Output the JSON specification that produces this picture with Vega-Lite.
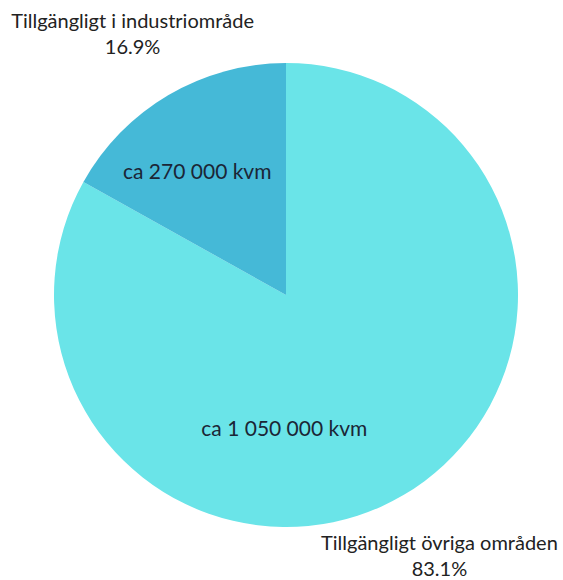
{
  "$schema": "https://vega.github.io/schema/vega-lite/v6.json",
  "width": 554,
  "height": 570,
  "autosize": "none",
  "padding": {"left": 9, "top": 10, "right": 0, "bottom": 0},
  "background": "white",
  "config": {"view": {"stroke": null}, "font": "Lato"},
  "datasets": {
    "slices": [
      {"order": 1, "category": "Tillgängligt övriga områden", "percent": 83.1, "pct": "83.1%"},
      {"order": 2, "category": "Tillgängligt i industriområde", "percent": 16.9, "pct": "16.9%"}
    ],
    "notes_small": [{"pos": 90.0, "note": "ca 270 000 kvm"}],
    "notes_big": [{"pos": 50.2, "note": "ca 1 050 000 kvm"}]
  },
  "layer": [
    {
      "data": {"name": "slices"},
      "mark": {"type": "arc", "outerRadius": 232},
      "encoding": {
        "theta": {"field": "percent", "type": "quantitative", "stack": true, "scale": {"domain": [0, 100]}},
        "order": {"field": "order", "type": "quantitative"},
        "color": {
          "field": "category",
          "type": "nominal",
          "scale": {"domain": ["Tillgängligt övriga områden", "Tillgängligt i industriområde"], "range": ["#6ae4e8", "#45b9d7"]},
          "legend": null
        }
      }
    },
    {
      "data": {"name": "slices"},
      "transform": [{"calculate": "[datum.category, datum.pct]", "as": "lines"}],
      "mark": {"type": "text", "radius": 303, "dy": -12, "fontSize": 20, "color": "#222222", "align": "center", "baseline": "middle", "lineHeight": 26},
      "encoding": {
        "theta": {"field": "percent", "type": "quantitative", "stack": true},
        "order": {"field": "order", "type": "quantitative"},
        "text": {"field": "lines"}
      }
    },
    {
      "data": {"name": "notes_small"},
      "mark": {"type": "text", "radius": 151, "fontSize": 21, "color": "#1b2636", "align": "center", "baseline": "middle"},
      "encoding": {
        "theta": {"field": "pos", "type": "quantitative", "stack": null},
        "text": {"field": "note"}
      }
    },
    {
      "data": {"name": "notes_big"},
      "mark": {"type": "text", "radius": 135, "fontSize": 21, "color": "#1b2636", "align": "center", "baseline": "middle"},
      "encoding": {
        "theta": {"field": "pos", "type": "quantitative", "stack": null},
        "text": {"field": "note"}
      }
    }
  ]
}
